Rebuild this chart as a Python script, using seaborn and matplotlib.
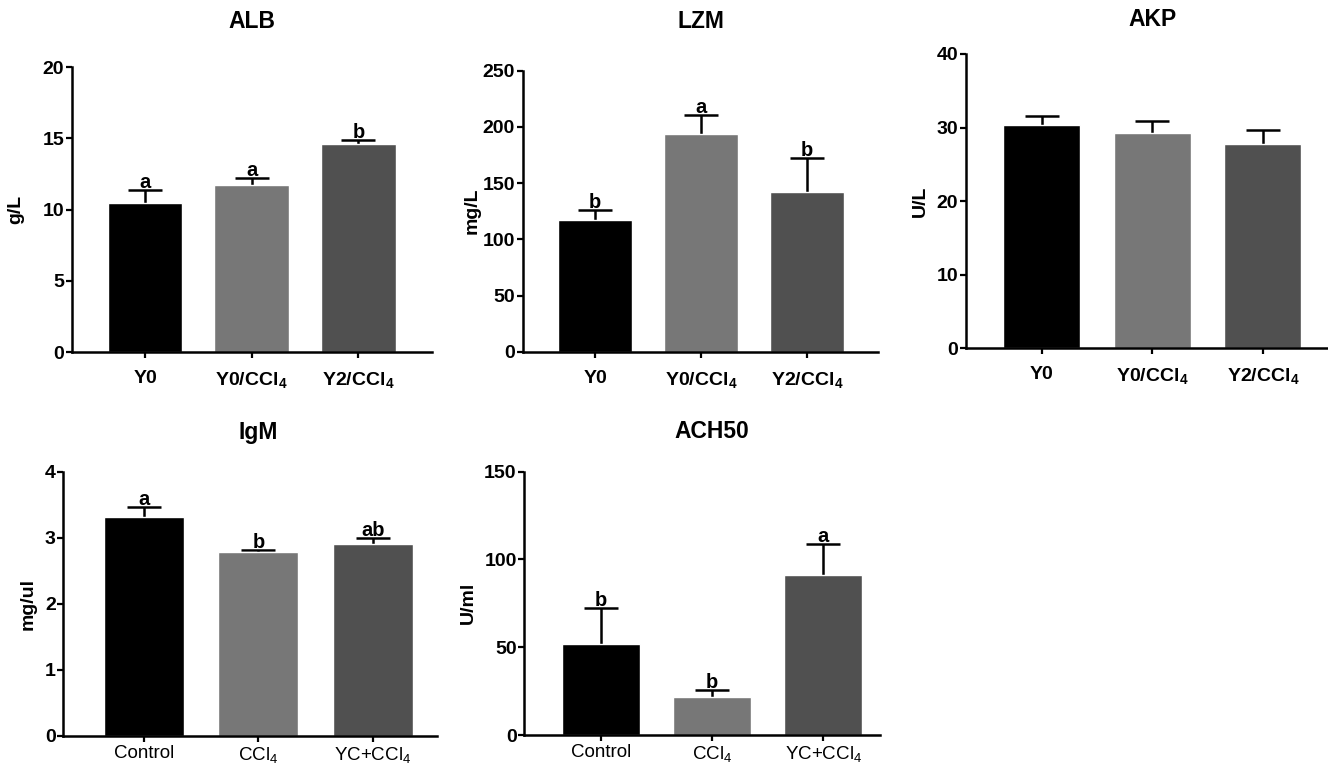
import numpy as np
import pandas as pd
import matplotlib
matplotlib.use("Agg")
import matplotlib.pyplot as plt
import seaborn as sns

# groups
groups_top = ["Y0", "Y0/CCl4", "Y2/CCl4"]
groups_bottom = ["Control", "CCl4", "YC+CCl4"]
labels_top = ["Y0", "Y0/CCl$_4$", "Y2/CCl$_4$"]
labels_bottom = ["Control", "CCl$_\\mathrm{4}$", "YC+CCl$_\\mathrm{4}$"]

# values (mean, upper error)
alb_mean = [10.45, 11.7, 14.6]
alb_sd = [0.9, 0.5, 0.25]
alb_letters = ["a", "a", "b"]

lzm_mean = [117.0, 194.0, 142.0]
lzm_sd = [9.5, 17.0, 30.0]
lzm_letters = ["b", "a", "b"]

akp_mean = [30.3, 29.25, 27.7]
akp_sd = [1.3, 1.7, 2.0]
akp_letters = ["", "", ""]

igm_mean = [3.31, 2.78, 2.91]
igm_sd = [0.15, 0.04, 0.09]
igm_letters = ["a", "b", "ab"]

ach_mean = [52.0, 21.5, 91.0]
ach_sd = [20.5, 4.2, 18.0]
ach_letters = ["b", "b", "a"]

bar_colors = ["#000000", "#777777", "#505050"]

W, H = 1328, 764

sns.set_style("ticks")
plt.rcParams["font.family"] = ["Liberation Sans", "DejaVu Sans"]
plt.rcParams["mathtext.fontset"] = "custom"
plt.rcParams["mathtext.rm"] = "Liberation Sans"
plt.rcParams["mathtext.bf"] = "Liberation Sans:bold"
plt.rcParams["mathtext.it"] = "Liberation Sans:bold"
plt.rcParams["mathtext.default"] = "bf"
for k in ["text.color", "axes.labelcolor", "xtick.color", "ytick.color", "axes.edgecolor"]:
    plt.rcParams[k] = "black"

fig = plt.figure(figsize=(W / 100, H / 100), dpi=100)


def px_axes(left, right, top, bottom):
    return fig.add_axes([left / W, 1 - bottom / H, (right - left) / W, (bottom - top) / H])


def panel(ax, groups, labels, means, sds, letters, ymax, step, ylabel, title,
          xlim, title_y, ylab_dist, bottom_row):
    df = pd.DataFrame({"group": groups, "value": means})
    sns.barplot(data=df, x="group", y="value", hue="group", palette=bar_colors,
                width=0.7, saturation=1, errorbar=None, legend=False, ax=ax, zorder=2)
    x = np.arange(len(groups))
    # symmetric bars drawn behind the bars so only the upper half shows
    ax.errorbar(x, means, yerr=sds, fmt="none", ecolor="black", elinewidth=1.8,
                capsize=12.5, capthick=1.8, zorder=1)
    for xi, m, s, let in zip(x, means, sds, letters):
        if let:
            ax.annotate(let, xy=(xi, m + s), xytext=(0, -1.5), textcoords="offset points",
                        ha="center", va="bottom", fontsize=14.5, fontweight="bold", zorder=3)
    ax.set_xlim(*xlim)
    ax.set_ylim(0, ymax)
    ax.set_yticks(np.arange(0, ymax + step / 2, step))
    ax.set_xticks(x)
    if bottom_row:
        ax.set_xticklabels(labels, fontsize=13.5)
        ax.tick_params(axis="x", pad=2)
    else:
        ax.set_xticklabels(labels, fontsize=14, fontweight="bold")
        ax.tick_params(axis="x", pad=8.5)
    for t in ax.get_yticklabels():
        t.set_fontweight("bold")
        t.set_fontsize(14)
    ax.tick_params(axis="y", pad=1)
    ax.tick_params(axis="both", width=1.6, length=4.5, color="black")
    ax.set_xlabel("")
    ax.set_ylabel("")
    bb = ax.get_position()
    ax.text(-ylab_dist / (bb.width * W), 0.5, ylabel, transform=ax.transAxes,
            rotation=90, ha="center", va="center", fontsize=14, fontweight="bold")
    ax.annotate(title, xy=(1, H - title_y), xycoords=("data", "figure pixels"),
                ha="center", va="center", fontsize=16.5, fontweight="bold")
    sns.despine(ax=ax)
    for sp in ["left", "bottom"]:
        ax.spines[sp].set_linewidth(1.8)
        ax.spines[sp].set_color("black")
        ax.spines[sp].set_zorder(4)


ax1 = px_axes(72, 432, 67, 352)
panel(ax1, groups_top, labels_top, alb_mean, alb_sd, alb_letters, 20, 5, "g/L", "ALB",
      (-0.685, 2.69), 22, 56, False)

ax2 = px_axes(522.7, 878, 70.7, 351.7)
panel(ax2, groups_top, labels_top, lzm_mean, lzm_sd, lzm_letters, 250, 50, "mg/L", "LZM",
      (-0.685, 2.67), 22, 51, False)

ax3 = px_axes(966, 1328, 54, 348.3)
panel(ax3, groups_top, labels_top, akp_mean, akp_sd, akp_letters, 40, 10, "U/L", "AKP",
      (-0.685, 2.59), 20, 46, False)

ax4 = px_axes(63.3, 436.7, 471.7, 735.7)
panel(ax4, groups_bottom, labels_bottom, igm_mean, igm_sd, igm_letters, 4, 1, "mg/ul", "IgM",
      (-0.708, 2.56), 432, 35, True)

ax5 = px_axes(524.3, 880, 471.7, 735)
panel(ax5, groups_bottom, labels_bottom, ach_mean, ach_sd, ach_letters, 150, 50, "U/ml", "ACH50",
      (-0.686, 2.51), 432, 56, True)

fig.savefig("out.png", dpi=100)
